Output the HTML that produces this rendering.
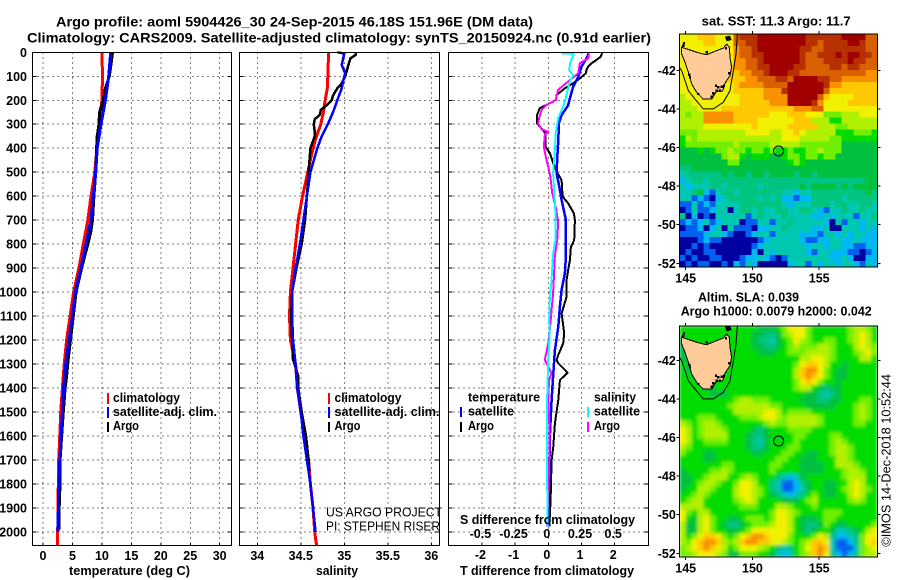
<!DOCTYPE html>
<html>
<head>
<meta charset="utf-8">
<title>Argo profile</title>
<style>
html,body{margin:0;padding:0;background:#fff}
svg{display:block}
text{font-family:"Liberation Sans",sans-serif;fill:#000}
.b{font-weight:bold;font-size:12.5px}
.t{font-weight:bold;font-size:14px}
.r{font-weight:normal;font-size:12.5px}
</style>
</head>
<body>
<svg id="root" xmlns="http://www.w3.org/2000/svg" width="900" height="580" viewBox="0 0 900 580">
<defs>
<clipPath id="clip-map1"><rect x="679.3" y="34.3" width="198" height="232.7"/></clipPath>
<clipPath id="clip-map2"><rect x="679.3" y="325.7" width="198" height="231.3"/></clipPath>
<filter id="soft" x="-5%" y="-5%" width="110%" height="110%"><feGaussianBlur stdDeviation="1.7"/></filter>
</defs>
<rect x="0" y="0" width="900" height="580" fill="#fff"/>

<text class="t" x="56" y="26.5" textLength="477" lengthAdjust="spacingAndGlyphs">Argo profile: aoml 5904426_30 24-Sep-2015 46.18S 151.96E (DM data)</text>
<text class="t" x="27" y="42.5" textLength="624" lengthAdjust="spacingAndGlyphs">Climatology: CARS2009. Satellite-adjusted climatology: synTS_20150924.nc (0.91d earlier)</text>

<g id="panel-t"></g>
<g id="panel-s"></g>
<g id="panel-d"></g>

<text class="b" x="69" y="575" textLength="121" lengthAdjust="spacingAndGlyphs">temperature (deg C)</text>
<text class="b" x="316" y="575" textLength="42" lengthAdjust="spacingAndGlyphs">salinity</text>
<text class="b" x="460" y="575" textLength="174" lengthAdjust="spacingAndGlyphs">T difference from climatology</text>
<text class="b" x="460" y="524" textLength="175" lengthAdjust="spacingAndGlyphs">S difference from climatology</text>

<g>
<rect x="107" y="393" width="2" height="11" fill="#f00"/>
<rect x="107" y="407" width="2" height="11" fill="#00f"/>
<rect x="107" y="422" width="2" height="10" fill="#000"/>
<text class="b" x="113" y="402" textLength="67" lengthAdjust="spacingAndGlyphs">climatology</text>
<text class="b" x="113" y="416" textLength="104" lengthAdjust="spacingAndGlyphs">satellite-adj. clim.</text>
<text class="b" x="113" y="430" textLength="26" lengthAdjust="spacingAndGlyphs">Argo</text>
</g>
<g>
<rect x="328" y="393" width="2" height="11" fill="#f00"/>
<rect x="328" y="407" width="2" height="11" fill="#00f"/>
<rect x="328" y="422" width="2" height="10" fill="#000"/>
<text class="b" x="334.5" y="402" textLength="67" lengthAdjust="spacingAndGlyphs">climatology</text>
<text class="b" x="334.5" y="416" textLength="105" lengthAdjust="spacingAndGlyphs">satellite-adj. clim.</text>
<text class="b" x="334.5" y="430" textLength="26" lengthAdjust="spacingAndGlyphs">Argo</text>
</g>
<text class="r" x="326" y="516.5" textLength="116" lengthAdjust="spacingAndGlyphs">US ARGO PROJECT</text>
<text class="r" x="326" y="530.5" textLength="114" lengthAdjust="spacingAndGlyphs">PI: STEPHEN RISER</text>

<g>
<text class="b" x="468" y="401.7" textLength="72" lengthAdjust="spacingAndGlyphs">temperature</text>
<rect x="460" y="407" width="2" height="10" fill="#00f"/>
<rect x="460" y="422" width="2" height="10" fill="#000"/>
<text class="b" x="468" y="415.7" textLength="46" lengthAdjust="spacingAndGlyphs">satellite</text>
<text class="b" x="468" y="430" textLength="26" lengthAdjust="spacingAndGlyphs">Argo</text>
</g>
<g>
<text class="b" x="594" y="401.7" textLength="42" lengthAdjust="spacingAndGlyphs">salinity</text>
<rect x="587" y="407" width="2" height="10" fill="#0ff"/>
<rect x="587" y="422" width="2" height="10" fill="#f0f"/>
<text class="b" x="594" y="415.7" textLength="46" lengthAdjust="spacingAndGlyphs">satellite</text>
<text class="b" x="594" y="430" textLength="26" lengthAdjust="spacingAndGlyphs">Argo</text>
</g>

<text class="b" style="font-size:13px" x="701.7" y="25.7" textLength="149" lengthAdjust="spacingAndGlyphs">sat. SST: 11.3 Argo: 11.7</text>
<text class="b" style="font-size:13px" x="698" y="301.7" textLength="101" lengthAdjust="spacingAndGlyphs">Altim. SLA: 0.039</text>
<text class="b" style="font-size:13px" x="680.7" y="315.7" textLength="191" lengthAdjust="spacingAndGlyphs">Argo h1000: 0.0079 h2000: 0.042</text>

<g id="map1"></g>
<g id="map2"></g>

<text class="r" transform="translate(890.7,546.7) rotate(-90)" x="0" y="0" textLength="172.7" lengthAdjust="spacingAndGlyphs">©IMOS 14-Dec-2018 10:52:44</text>

<script>
// ---------- tick labels ----------
var depthTicks = [0,100,200,300,400,500,600,700,800,900,1000,1100,1200,1300,1400,1500,1600,1700,1800,1900,2000];
var tempTicks = [0,5,10,15,20,25,30];
var salTicks = [34,34.5,35,35.5,36];
var salTickLabels = ['34','34.5','35','35.5','36'];
var tDiffTicks = [-2,-1,0,1,2];
var sDiffTicks = [-0.5,-0.25,0,0.25,0.5];
var sDiffTickLabels = ['-0.5','-0.25','0','0.25','0.5'];
var lonTicks = [145,150,155];
var latTicks = [-42,-44,-46,-48,-50,-52];

// ---------- temperature profiles ----------
var tClimDepth = [0,100,200,300,400,500,600,700,800,900,1000,1100,1200,1300,1400,1500,1600,1700,1800,1900,2000,2055];
var tClimVal = [10.0,10.1,10.0,9.56,9.17,8.8,8.15,7.6,6.85,6.1,5.2,4.6,4.0,3.6,3.3,3.0,2.85,2.66,2.6,2.55,2.5,2.45];
var tSatDepth = [0,100,200,300,400,500,600,700,800,900,1000,1100,1200,1300,1400,1500,1600,1700,1800,1900,2000];
var tSatVal = [11.5,11.15,10.6,9.85,9.2,8.95,8.55,8.15,7.3,6.45,5.5,5.0,4.4,3.85,3.5,3.3,3.05,2.85,2.7,2.6,2.55];
var tArgoDepth = [0,50,100,150,200,250,300,350,400,500,600,700,750,800,900,1000,1100,1200,1300,1350,1400,1500,1600,1700,1800,1850,1900,1990];
var tArgoVal = [11.8,11.55,11.25,10.6,10.25,9.6,9.5,9.2,9.1,8.95,8.65,8.4,8.1,7.6,6.55,5.6,5.15,4.65,4.2,4.0,3.75,3.45,3.15,2.9,2.9,2.8,2.75,2.7];

// ---------- salinity profiles ----------
var sClimDepth = [0,100,150,200,250,300,350,400,500,600,700,800,900,1000,1100,1200,1300,1400,1500,1600,1700,1800,1900,2000,2055];
var sClimVal = [34.82,34.81,34.805,34.78,34.76,34.73,34.68,34.64,34.58,34.52,34.47,34.44,34.41,34.38,34.37,34.38,34.44,34.46,34.5,34.54,34.59,34.61,34.64,34.66,34.68];
var sSatDepth = [0,5,53,87,100,150,200,250,300,350,400,500,600,700,800,900,1000,1100,1200,1300,1400,1500,1600,1700,1800,1900,2000];
var sSatVal = [34.92,35.0,34.97,35.01,35.0,34.97,34.92,34.87,34.81,34.74,34.69,34.61,34.57,34.53,34.49,34.44,34.4,34.4,34.41,34.44,34.46,34.5,34.53,34.57,34.61,34.64,34.67];
var sArgoDepth = [0,10,25,50,100,130,150,180,200,220,240,260,280,300,330,350,370,400,500,600,700,800,900,1000,1100,1200,1280,1350,1400,1500,1600,1700,1750];
var sArgoVal = [35.13,35.135,35.07,35.05,35.01,34.97,34.92,34.87,34.855,34.8,34.73,34.72,34.66,34.65,34.66,34.66,34.64,34.61,34.59,34.57,34.55,34.51,34.45,34.4,34.39,34.4,34.41,34.47,34.47,34.51,34.56,34.59,34.6];

// ---------- difference profiles ----------
var dTArgoDepth = [0,18,32,46,60,74,88,109,129,150,178,199,220,234,262,296,317,338,394,421,463,498,533,602,630,672,699,783,811,866,908,950,1019,1089,1172,1214,1262,1283,1297,1336,1367,1450,1547,1645,1700,1867,1978];
var dTArgoVal = [1.63,1.58,1.45,1.3,1.2,1.15,1.13,0.95,0.75,0.5,0.25,0.23,-0.06,-0.26,-0.34,-0.34,-0.21,-0.08,-0.08,0.05,0.15,0.25,0.4,0.43,0.6,0.77,0.8,0.78,0.68,0.65,0.6,0.55,0.55,0.4,0.48,0.45,0.3,0.25,0.3,0.58,0.35,0.3,0.2,0.15,0.1,0.07,0.03];
var dTSatDepth = [4,25,60,102,143,192,220,262,296,366,435,505,560,616,699,783,852,922,991,1061,1144,1242,1339,1450,1589,1728,1978];
var dTSatVal = [1.22,1.15,1.0,0.9,0.75,0.65,0.6,0.4,0.32,0.3,0.27,0.25,0.33,0.4,0.53,0.53,0.53,0.5,0.4,0.35,0.3,0.2,0.15,0.1,0.05,0.03,0.0];
var dSSatDepth = [4,7,39,74,95,122,178,227,275,338,407,505,616,699,783,838,950,1033,1116,1172,1283,1450,1728,1978];
var dSSatVal = [0.099,0.192,0.167,0.157,0.187,0.162,0.137,0.112,0.074,0.056,0.049,0.036,0.049,0.056,0.054,0.036,0.024,0.011,0.006,0.011,-0.001,-0.009,-0.009,-0.006];
var dSArgoDepth = [4,25,46,88,122,157,199,220,241,275,296,321,331,345,394,435,477,519,588,658,713,783,852,922,1005,1158,1214,1283,1311,1339,1367,1450,1589,1728,1978];
var dSArgoVal = [0.307,0.3,0.237,0.225,0.149,0.074,0.056,-0.014,-0.051,-0.069,-0.077,-0.051,-0.001,-0.026,-0.034,-0.019,-0.001,0.016,0.029,0.061,0.074,0.067,0.049,0.044,0.036,0.011,-0.001,-0.026,-0.001,0.024,0.006,-0.001,0.011,0.006,-0.009];

// ---------- map fields (colour-scale level of each cell) ----------
var levelColors = ['#0000a0','#0060f0','#00b8f0','#00c8b0','#00c480','#00c040','#00dc00','#70f000','#b0f000','#f0f000','#ffc800','#f89000','#d86000','#b83000','#a00000'];
var sstRows = [
[9,9,9,10,10,10,9,9,9,12,13,13,13,14,14,14,14,14,14,14,14,13,13,13,13,13,13,14,14,14,14,12,12],
[9,9,9,9,10,10,9,9,9,12,12,13,13,14,14,14,14,14,14,14,14,13,13,12,13,13,13,13,14,14,13,12,12],
[9,9,9,9,9,9,9,9,9,11,12,12,13,14,14,14,14,14,14,14,13,13,12,12,13,13,13,13,13,13,13,12,12],
[9,9,9,9,9,9,9,9,9,11,12,12,13,13,14,14,14,14,14,14,13,12,12,13,13,13,14,13,14,14,13,13,12],
[9,9,9,9,9,9,9,9,9,11,11,12,12,13,14,14,14,14,14,14,13,12,12,12,13,13,13,13,14,13,13,12,12],
[9,9,9,9,9,9,9,9,10,11,11,12,12,13,13,14,14,14,14,13,13,12,12,12,12,13,13,12,13,13,12,12,12],
[9,9,9,9,9,9,9,9,10,10,11,11,12,12,13,14,14,14,13,13,12,12,12,12,12,12,12,12,12,12,12,11,11],
[9,9,9,9,9,9,9,9,10,10,10,11,11,12,12,12,13,13,12,14,14,14,14,13,13,12,12,11,11,11,11,11,11],
[9,9,9,9,9,9,9,9,9,10,11,11,11,11,12,12,12,12,14,14,14,14,14,14,13,11,11,10,10,10,10,10,10],
[9,9,9,9,9,9,9,9,9,10,10,10,10,10,11,11,11,13,14,14,14,14,14,14,12,10,10,10,10,10,10,10,10],
[8,9,9,9,9,9,9,9,9,9,10,10,10,10,11,11,11,11,14,14,14,14,14,12,10,9,9,9,9,10,10,10,10],
[8,8,9,9,9,9,9,9,9,9,10,10,10,10,10,11,11,11,14,14,14,14,13,11,9,9,9,9,10,10,10,10,10],
[8,8,8,9,9,9,9,10,10,10,10,10,10,10,10,10,10,10,10,11,11,11,12,12,9,9,9,9,9,9,9,9,9],
[8,7,8,8,11,11,11,11,11,10,10,10,10,10,10,9,9,9,10,10,10,9,9,9,7,7,7,8,8,8,9,9,9],
[8,8,8,8,11,11,11,11,11,10,10,10,10,9,9,9,9,9,9,10,10,10,8,8,8,6,6,8,8,8,8,8,8],
[8,8,8,8,9,9,9,9,9,9,9,9,10,9,9,9,9,9,10,10,10,10,10,8,8,8,7,7,8,8,8,8,8],
[7,7,7,8,8,8,8,8,8,8,8,9,9,9,9,8,8,9,9,10,9,8,8,8,8,8,6,6,6,7,7,7,6],
[6,8,7,8,8,8,8,8,8,8,8,8,8,8,8,8,8,9,9,9,8,8,8,8,8,7,7,6,6,6,6,6,6],
[6,7,7,7,7,7,7,7,7,8,7,7,7,7,7,8,8,8,8,8,7,7,7,7,7,7,7,5,5,5,5,5,5],
[5,5,5,6,5,6,7,7,8,7,7,6,7,7,6,7,6,6,7,6,6,7,7,8,7,7,7,5,5,5,5,5,5],
[5,5,5,5,5,5,5,7,8,8,6,5,6,6,6,5,5,6,7,7,6,7,7,6,7,7,5,5,5,5,5,5,5],
[5,5,5,5,5,5,5,5,7,7,5,5,5,5,5,5,5,5,6,7,6,5,5,5,5,5,5,5,5,5,5,5,5],
[4,4,5,5,5,5,5,5,5,5,5,5,5,5,5,5,5,5,5,5,5,5,5,5,5,5,5,5,5,5,5,5,5],
[3,4,4,4,4,4,4,5,4,5,5,4,5,5,4,5,5,5,5,4,5,5,4,5,5,5,5,5,5,5,5,5,5],
[2,3,4,4,3,4,4,4,4,4,4,4,4,4,4,4,4,4,4,4,4,4,4,4,4,4,4,4,4,4,4,5,5],
[3,2,3,3,3,4,4,3,4,4,4,4,4,3,4,4,4,4,4,4,5,4,5,5,5,5,4,5,4,5,5,5,5],
[3,3,4,5,2,1,3,4,4,3,4,4,4,4,4,4,4,3,3,2,3,3,4,4,4,4,4,4,4,4,4,5,4],
[3,3,1,2,1,0,2,3,4,4,4,4,4,3,4,3,4,2,2,1,2,2,4,4,4,4,4,3,4,4,4,4,4],
[1,1,3,1,2,1,3,3,3,3,4,4,4,4,4,4,4,3,2,3,3,3,4,4,4,3,4,4,3,3,4,4,3],
[0,1,3,1,1,2,3,3,0,3,4,4,3,4,3,3,4,4,3,3,4,4,3,2,1,3,3,4,3,3,4,3,3],
[4,0,2,0,1,0,3,3,3,3,3,1,3,4,3,3,3,4,3,3,3,3,2,2,3,2,3,3,3,1,3,3,4],
[1,2,1,2,3,1,2,3,3,3,0,1,1,3,3,1,3,3,4,3,3,3,3,3,2,0,3,1,3,3,2,3,3],
[0,1,1,2,0,2,3,0,3,1,1,1,0,2,2,3,3,4,3,3,3,3,2,2,3,0,0,3,3,3,2,3,2],
[1,1,1,1,2,3,3,2,1,0,0,1,2,3,3,1,3,3,3,3,2,2,2,1,3,3,2,3,2,3,3,2,2],
[0,0,0,1,2,1,1,0,0,0,0,0,0,1,2,3,3,3,3,3,2,1,1,2,2,3,3,2,2,3,2,2,2],
[0,0,1,0,1,0,0,0,0,0,0,0,1,2,3,3,3,3,3,3,3,2,3,3,2,3,3,2,2,1,1,2,2],
[0,1,0,0,1,1,0,0,0,0,0,0,2,0,3,2,3,3,3,3,3,2,1,3,3,2,2,2,1,1,0,1,2],
[1,0,1,0,0,1,1,0,0,0,1,2,2,3,2,1,0,1,3,3,3,3,3,3,3,2,2,3,2,0,0,2,2],
[0,1,0,1,1,0,0,1,0,2,1,3,2,0,0,0,0,0,2,3,3,1,3,2,3,3,2,3,3,2,1,3,2]
];
var slaRows = [
[6,6,6,6,6,6,6,6,6,6,6,6,6,5,5,5,6,7,9,9,9,7,6,6,6,6,6,6,7,8,8,7,6],
[6,6,6,6,6,6,6,6,6,6,6,6,5,5,4,4,5,7,8,9,9,7,6,6,6,6,6,6,7,8,9,8,6],
[5,6,6,6,6,6,6,6,6,6,6,6,5,4,4,3,5,6,7,9,8,7,6,6,7,7,6,6,7,8,9,8,6],
[5,5,6,6,6,6,6,6,6,6,6,6,5,5,4,4,5,6,7,8,7,7,7,8,8,7,6,6,6,8,9,8,7],
[5,5,6,6,6,6,6,6,6,6,6,6,6,5,5,5,6,6,7,7,7,8,8,8,8,7,6,6,6,7,8,9,7],
[5,5,5,6,6,6,6,6,6,6,6,6,6,6,6,6,6,6,6,6,8,8,9,9,8,7,6,6,6,6,8,8,6],
[6,5,5,6,6,6,6,6,6,6,6,6,6,6,6,6,6,6,6,7,9,10,10,9,8,6,6,5,6,6,6,6,6],
[6,5,5,5,6,6,6,6,6,6,6,6,6,6,6,6,6,6,6,8,10,11,11,9,7,6,5,5,6,6,6,6,6],
[6,6,5,5,6,6,6,6,6,6,6,6,6,6,6,6,6,6,6,8,10,11,10,9,7,6,5,5,6,6,6,6,6],
[6,6,6,5,5,6,6,6,6,6,6,6,6,6,6,6,6,6,6,7,9,10,9,7,6,6,5,6,6,6,6,6,6],
[6,6,6,6,5,5,6,6,6,6,6,6,6,6,6,6,6,6,6,7,8,8,6,5,4,5,5,6,6,6,6,6,6],
[6,6,6,6,6,5,5,5,6,6,6,6,6,6,6,6,6,6,6,6,6,5,5,4,3,4,5,6,6,6,6,6,6],
[6,6,6,6,6,6,6,6,6,7,8,8,7,7,7,6,6,6,6,6,5,5,5,4,4,5,5,6,6,6,7,7,6],
[6,6,6,6,6,6,6,6,7,8,8,8,8,8,8,7,7,6,6,6,6,5,5,5,5,5,6,6,6,7,8,7,6],
[6,6,6,6,6,6,6,6,6,8,8,8,8,8,9,9,8,6,7,7,7,7,6,6,6,6,6,6,6,7,8,7,6],
[6,6,6,7,7,7,6,6,6,6,7,7,7,8,9,9,8,7,8,8,8,8,8,7,6,6,6,6,6,7,8,7,6],
[8,7,6,7,8,8,7,6,6,6,6,6,6,6,7,8,7,7,8,8,8,8,8,7,6,6,6,6,6,7,7,6,6],
[9,8,6,7,8,8,8,7,6,6,6,6,5,4,5,6,6,6,7,7,7,7,6,6,6,6,6,6,6,6,6,6,6],
[9,8,6,7,8,8,8,8,6,6,6,5,4,4,5,6,6,6,6,7,7,6,6,6,6,7,7,6,6,6,6,6,6],
[9,8,6,6,7,7,7,7,6,6,6,5,4,3,5,6,6,6,6,7,6,6,6,6,6,7,8,7,6,6,6,6,6],
[8,7,6,6,6,6,6,6,6,6,6,5,4,4,5,6,6,6,7,7,6,6,6,6,6,7,8,8,7,6,6,6,6],
[7,6,6,6,5,5,6,6,6,6,6,6,5,5,6,6,6,7,7,6,6,5,5,6,6,7,8,8,7,6,6,6,6],
[6,6,6,6,5,5,6,6,6,6,6,6,6,6,6,6,7,7,6,6,5,5,5,6,6,6,8,8,7,6,6,6,6],
[6,6,6,6,6,6,6,7,7,6,6,6,6,6,6,7,7,6,6,6,5,5,5,5,6,6,8,8,8,7,6,6,6],
[5,6,6,6,6,7,7,8,7,6,6,6,6,6,6,7,6,6,6,6,5,5,5,5,6,6,6,7,8,8,7,6,6],
[5,5,6,6,7,8,8,8,6,6,7,8,7,6,6,6,4,3,2,3,5,6,6,6,6,6,6,7,8,8,8,6,6],
[5,5,6,7,8,8,7,6,6,7,9,9,8,6,6,4,3,1,1,2,4,5,6,6,5,5,6,6,8,9,8,6,6],
[5,6,6,8,8,7,6,6,6,8,9,9,8,7,6,4,3,1,1,2,3,5,6,6,5,5,6,7,8,9,8,7,6],
[6,6,7,8,7,6,6,6,6,8,9,9,8,7,6,5,4,3,2,3,4,6,7,6,5,5,6,6,8,9,8,6,6],
[6,7,8,8,6,6,6,6,6,7,8,9,8,6,6,6,6,5,5,5,6,7,8,6,6,6,6,6,7,8,7,6,6],
[8,8,8,8,6,6,6,6,6,6,7,7,7,6,6,6,8,8,7,6,6,6,7,6,6,6,6,6,6,6,6,6,6],
[9,7,6,8,8,6,6,6,6,6,6,6,6,6,6,7,9,9,8,7,6,6,6,6,7,7,7,6,6,6,6,6,6],
[9,6,5,8,9,7,6,6,5,5,6,7,7,7,6,7,9,9,8,6,5,5,5,6,7,7,6,6,6,6,6,6,6],
[8,5,5,8,9,7,6,5,4,4,5,6,7,7,7,8,9,9,8,6,5,4,4,5,7,6,5,5,6,6,6,6,7],
[8,5,5,8,9,7,6,6,5,5,6,7,9,9,9,9,9,9,8,6,5,4,5,6,6,5,3,3,4,5,6,8,9],
[8,6,7,9,10,10,9,7,6,7,9,10,11,11,10,9,9,9,7,6,6,6,7,9,8,4,2,2,3,4,7,9,9],
[8,7,9,10,11,11,10,8,7,8,10,11,11,10,10,9,9,8,7,6,7,8,10,10,9,3,1,1,2,4,7,9,10],
[7,8,9,10,11,10,9,8,6,7,9,9,9,8,7,6,4,3,4,6,7,9,10,11,10,3,1,1,1,3,7,8,9],
[7,7,8,9,9,9,8,7,5,5,7,7,7,6,6,5,3,2,3,6,7,8,10,11,9,4,2,1,2,4,7,8,8]
];

// ---------- coastline and isobath (lon, lat) ----------
var tasmaniaLon = [144.70,145.32,146.07,146.57,147.32,147.82,148.07,148.27,148.32,148.44,148.32,147.94,147.77,147.32,146.95,146.32,145.82,145.45,145.2,144.95,144.70];
var tasmaniaLat = [-40.81,-40.95,-41.12,-41.19,-40.98,-40.85,-40.64,-40.81,-41.33,-41.85,-42.28,-42.68,-43.06,-43.06,-43.49,-43.49,-43.14,-42.71,-42.1,-41.59,-41.16];
var isobathLon = [148.87,148.77,148.57,148.44,148.32,147.82,147.07,146.32,145.7,145.2,144.7,144.45];
var isobathLat = [-40.12,-41.16,-42.02,-42.54,-43.06,-43.66,-44.0,-44.0,-43.49,-43.06,-42.02,-41.76];
var flindersLon = [147.94,148.32,148.44,148.07];
var flindersLat = [-40.26,-40.2,-40.43,-40.5];
var coastSpeckLon = [147.27,147.44,147.69,147.87,147.32,147.57,147.07,146.95,145.95,145.27,145.32,144.82,144.87,146.57,148.02,148.24];
var coastSpeckLat = [-42.8,-42.88,-42.85,-42.8,-43.06,-43.06,-43.19,-43.37,-43.23,-42.23,-42.36,-40.72,-40.6,-41.07,-40.85,-42.16];
var argoLon = 151.96;
var argoLat = -46.18;

var NS = 'http://www.w3.org/2000/svg';

// ---------- axis functions ----------
function depthY(d){ return 52.3 + d * 0.2398; }
function tempX(v){ return 43 + v * 5.89; }
function salX(v){ return 257.3 + (v - 34) * 87; }
function tDiffX(v){ return 548.3 + v * 33.2; }
function sDiffX(v){ return 548.3 + v * 132.8; }
function lonX(v){ return 685.7 + (v - 145) * 13.35; }
function lat1Y(v){ return 70.3 + (-42 - v) * 19.3; }
function lat2Y(v){ return 360.3 + (-42 - v) * 19.3; }

function makeLine(parent, x1, y1, x2, y2, dash){
  var el = document.createElementNS(NS, 'line');
  el.setAttribute('x1', x1); el.setAttribute('y1', y1);
  el.setAttribute('x2', x2); el.setAttribute('y2', y2);
  el.setAttribute('stroke', '#000');
  el.setAttribute('stroke-width', 1);
  el.setAttribute('shape-rendering', 'crispEdges');
  if (dash) el.setAttribute('stroke-dasharray', dash);
  parent.appendChild(el);
  return el;
}
function makeText(parent, str, x, y, anchor){
  var el = document.createElementNS(NS, 'text');
  el.setAttribute('class', 'b');
  el.setAttribute('x', x); el.setAttribute('y', y);
  el.setAttribute('text-anchor', anchor);
  el.textContent = str;
  parent.appendChild(el);
  return el;
}
function drawProfile(parent, depths, values, xFn, color, width, name){
  var pts = [];
  for (var i = 0; i < depths.length; i++) pts.push(xFn(values[i]).toFixed(1) + ',' + depthY(depths[i]).toFixed(1));
  var el = document.createElementNS(NS, 'polyline');
  el.setAttribute('points', pts.join(' '));
  el.setAttribute('fill', 'none');
  el.setAttribute('stroke', color);
  el.setAttribute('stroke-width', width);
  el.setAttribute('stroke-linejoin', 'round');
  el.setAttribute('shape-rendering', 'crispEdges');
  
  
  parent.appendChild(el);
}
function drawPanelFrame(parent, left, right, xTicks, xFn, withDepthLabels){
  var top = 52.3, bottom = 545.3;
  depthTicks.forEach(function(d){
    var y = depthY(d);
    if (d > 0) {
      var g = makeLine(parent, left, y, right, y, '1 4');
      
      
      var tl = makeLine(parent, left, y, left + 4, y);
      
      
      var tr = makeLine(parent, right - 4, y, right, y);
      
      
    }
    if (withDepthLabels) {
      var lab = makeText(parent, String(d), 27, y + 4.5, 'end');
      
      
    }
  });
  xTicks.forEach(function(v){
    var x = xFn(v);
    var g = makeLine(parent, x, top, x, bottom, '1 4');
    
    
    var tb = makeLine(parent, x, bottom - 3, x, bottom);
    
    
  });
}
function drawPanelBorder(parent, left, right){
  var el = document.createElementNS(NS, 'rect');
  el.setAttribute('x', left); el.setAttribute('y', 52.3);
  el.setAttribute('width', right - left); el.setAttribute('height', 493);
  el.setAttribute('fill', 'none');
  el.setAttribute('stroke', '#000');
  el.setAttribute('stroke-width', 1);
  el.setAttribute('shape-rendering', 'crispEdges');
  
  
  parent.appendChild(el);
}

// ---------- temperature panel ----------
var pT = document.getElementById('panel-t');
drawPanelFrame(pT, 32.5, 231.3, tempTicks, tempX, true);
tempTicks.forEach(function(v){
  var lab = makeText(pT, String(v), tempX(v), 560, 'middle');
  
  
});
drawProfile(pT, tClimDepth, tClimVal, tempX, '#f00', 3, 'temperature-climatology-line');
drawProfile(pT, tArgoDepth, tArgoVal, tempX, '#000', 3, 'temperature-argo-line');
drawProfile(pT, tSatDepth, tSatVal, tempX, '#00f', 3, 'temperature-satellite-line');
drawPanelBorder(pT, 32.5, 231.3);

// ---------- salinity panel ----------
var pS = document.getElementById('panel-s');
drawPanelFrame(pS, 239.3, 439.3, salTicks, salX, false);
salTicks.forEach(function(v, i){
  var lab = makeText(pS, salTickLabels[i], salX(v), 560, 'middle');
  
  
});
drawProfile(pS, sClimDepth, sClimVal, salX, '#f00', 3, 'salinity-climatology-line');
drawProfile(pS, sArgoDepth, sArgoVal, salX, '#000', 2.5, 'salinity-argo-line');
drawProfile(pS, sSatDepth, sSatVal, salX, '#00f', 2.5, 'salinity-satellite-line');
drawPanelBorder(pS, 239.3, 439.3);

// ---------- difference panel ----------
var pD = document.getElementById('panel-d');
drawPanelFrame(pD, 448.3, 648.3, tDiffTicks, tDiffX, false);
tDiffTicks.forEach(function(v){
  var lab = makeText(pD, String(v), tDiffX(v) - 1.5, 559, 'middle');
  
  
});
sDiffTicks.forEach(function(v, i){
  var lab = makeText(pD, sDiffTickLabels[i], sDiffX(v) - 1.5, 538, 'middle');
  
  
});
drawProfile(pD, dTArgoDepth, dTArgoVal, tDiffX, '#000', 2, 'difference-t-argo-line');
drawProfile(pD, dTSatDepth, dTSatVal, tDiffX, '#00f', 2.5, 'difference-t-satellite-line');
drawProfile(pD, dSArgoDepth, dSArgoVal, sDiffX, '#f0f', 2, 'difference-s-argo-line');
drawProfile(pD, dSSatDepth, dSSatVal, sDiffX, '#0ff', 2, 'difference-s-satellite-line');
drawPanelBorder(pD, 448.3, 648.3);

// ---------- maps ----------
function polyPoints(lons, lats, latFn){
  var p = [];
  for (var i = 0; i < lons.length; i++) p.push(lonX(lons[i]).toFixed(1) + ',' + latFn(lats[i]).toFixed(1));
  return p.join(' ');
}
function drawMap(root, rows, latFn, latTop, latBottom, clipId, soft, prefix){
  var lonMin = 144.52, lonMax = 159.35;
  var left = lonX(lonMin), right = lonX(lonMax), top = latFn(latTop), bottom = latFn(latBottom);
  var clip = document.createElementNS(NS, 'g');
  clip.setAttribute('clip-path', 'url(#' + clipId + ')');
  root.appendChild(clip);
  var cells = document.createElementNS(NS, 'g');
  if (soft) cells.setAttribute('filter', 'url(#soft)');
  
  
  clip.appendChild(cells);
  var nr = rows.length, nc = rows[0].length;
  var dLon = (lonMax - lonMin) / nc, dLat = (latTop - latBottom) / nr;
  for (var r = 0; r < nr; r++) {
    for (var c = 0; c < nc; c++) {
      var x0 = lonX(lonMin + c * dLon), x1 = lonX(lonMin + (c + 1) * dLon);
      var y0 = latFn(latTop - r * dLat), y1 = latFn(latTop - (r + 1) * dLat);
      var cell = document.createElementNS(NS, 'rect');
      cell.setAttribute('x', x0.toFixed(2));
      cell.setAttribute('y', y0.toFixed(2));
      cell.setAttribute('width', (x1 - x0 + 0.4).toFixed(2));
      cell.setAttribute('height', (y1 - y0 + 0.4).toFixed(2));
      cell.setAttribute('fill', levelColors[rows[r][c]]);
      cell.setAttribute('shape-rendering', 'crispEdges');
      
      
      cells.appendChild(cell);
    }
  }
  var iso = document.createElementNS(NS, 'polyline');
  iso.setAttribute('points', polyPoints(isobathLon, isobathLat, latFn));
  iso.setAttribute('fill', 'none');
  iso.setAttribute('stroke', '#000');
  iso.setAttribute('stroke-width', 1);
  
  
  clip.appendChild(iso);
  var land = document.createElementNS(NS, 'polygon');
  land.setAttribute('points', polyPoints(tasmaniaLon, tasmaniaLat, latFn));
  land.setAttribute('fill', '#ffcc99');
  land.setAttribute('stroke', '#000');
  land.setAttribute('stroke-width', 1);
  land.setAttribute('shape-rendering', 'crispEdges');
  
  
  clip.appendChild(land);
  var isl = document.createElementNS(NS, 'polygon');
  isl.setAttribute('points', polyPoints(flindersLon, flindersLat, latFn));
  isl.setAttribute('fill', '#000');
  
  
  clip.appendChild(isl);
  for (var s = 0; s < coastSpeckLon.length; s++) {
    var speck = document.createElementNS(NS, 'rect');
    speck.setAttribute('x', (lonX(coastSpeckLon[s]) - 1.2).toFixed(1));
    speck.setAttribute('y', (latFn(coastSpeckLat[s]) - 1.2).toFixed(1));
    speck.setAttribute('width', 2.4);
    speck.setAttribute('height', 2.4);
    speck.setAttribute('fill', '#000');
    speck.setAttribute('shape-rendering', 'crispEdges');
    
    
    clip.appendChild(speck);
  }
  var circ = document.createElementNS(NS, 'circle');
  circ.setAttribute('cx', lonX(argoLon).toFixed(1));
  circ.setAttribute('cy', latFn(argoLat).toFixed(1));
  circ.setAttribute('r', 5);
  circ.setAttribute('fill', 'none');
  circ.setAttribute('stroke', '#000');
  circ.setAttribute('stroke-width', 1);
  
  
  clip.appendChild(circ);
  var border = document.createElementNS(NS, 'rect');
  border.setAttribute('x', left); border.setAttribute('y', top);
  border.setAttribute('width', right - left); border.setAttribute('height', bottom - top);
  border.setAttribute('fill', 'none');
  border.setAttribute('stroke', '#000');
  border.setAttribute('stroke-width', 1);
  border.setAttribute('shape-rendering', 'crispEdges');
  
  
  root.appendChild(border);
  lonTicks.forEach(function(v){
    var x = lonX(v);
    var t1 = makeLine(root, x, bottom, x, bottom + 3);
    
    
    var t2 = makeLine(root, x, top - 3, x, top);
    
    
    var lab = makeText(root, String(v), x, bottom + 15.5, 'middle');
    
    
  });
  latTicks.forEach(function(v){
    var y = latFn(v);
    var t1 = makeLine(root, left - 3, y, left, y);
    
    
    var t2 = makeLine(root, right, y, right + 3, y);
    
    
    var lab = makeText(root, String(v), left - 3.5, y + 4.5, 'end');
    
    
  });
}
drawMap(document.getElementById('map1'), sstRows, lat1Y, -40.13, -52.18, 'clip-map1', false, 'sst-map');
drawMap(document.getElementById('map2'), slaRows, lat2Y, -40.21, -52.19, 'clip-map2', true, 'sla-map');
</script>
</svg>
</body>
</html>
